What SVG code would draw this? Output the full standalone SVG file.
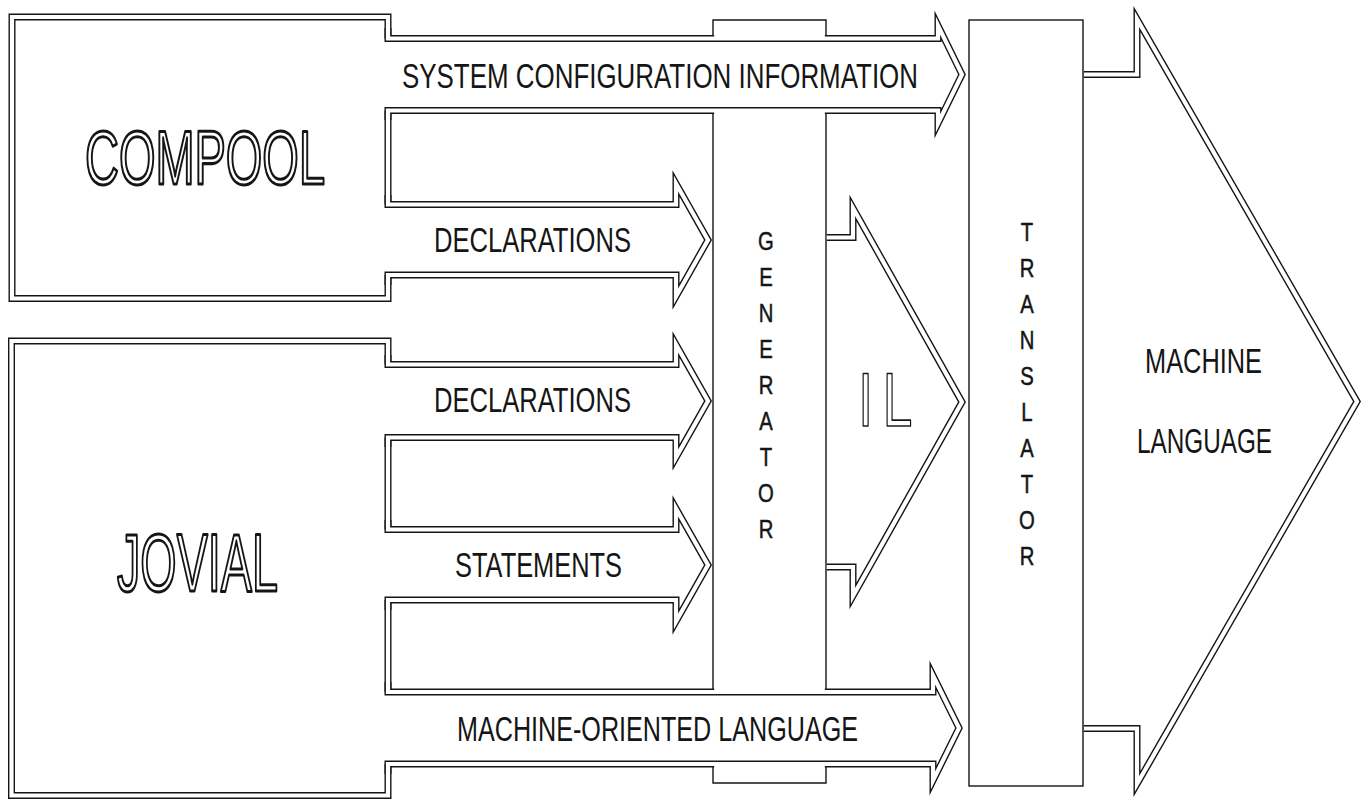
<svg xmlns="http://www.w3.org/2000/svg" width="1367" height="799" viewBox="0 0 1367 799">
<defs>
<style>
.db{fill:none;stroke:#151515;stroke-width:7;stroke-linejoin:miter;stroke-miterlimit:30}
.dw{fill:none;stroke:#fff;stroke-width:4.2;stroke-linejoin:miter;stroke-miterlimit:30}
.sg{fill:none;stroke:#151515;stroke-width:1.4}
.er{fill:#fff}
.t{font-family:"Liberation Sans",Arial,Helvetica,sans-serif;fill:#151515}
.lbl{font-size:35px}
.big{fill:#fff;stroke:#151515;stroke-width:3.1;stroke-linejoin:round}
.vl{font-size:26px;text-anchor:middle;stroke:#151515;stroke-width:0.5}
</style>
<path id="compoolBox" d="M388,38.5 V17 H12 V298.5 H388 V275 M388,110.5 V204.5"/>
<path id="jovialBox" d="M388,364.5 V341 H11.5 V795.5 H388 V764 M388,437.5 V529.5 M388,600 V692"/>
<path id="aSys" d="M388,28 V38.5 H938 V25.5 L962,74.5 L938,123.5 V110.5 H388 V120"/>
<path id="aDecl1" d="M388,195 V204.5 H676 V183.5 L708,240 L676,296.5 V275 H388 V285"/>
<path id="aDecl2" d="M388,355 V364.5 H676 V344.5 L708,401 L676,457.5 V437.5 H388 V447"/>
<path id="aStat" d="M388,520 V529.5 H676 V508.5 L708,565 L676,621.5 V600 H388 V610"/>
<path id="aMol" d="M388,682 V692 H933 V675.5 L959,728 L933,780.5 V764 H388 V774"/>
<path id="aIL" d="M826.7,237.5 H853 V208 L962,402 L853,596 V567 H826.7"/>
<path id="aML" d="M1083.7,74.5 H1137 V19 L1357,401.5 L1137,784 V728.5 H1083.7"/>
</defs>
<rect x="0" y="0" width="1367" height="799" fill="#fff"/>

<g id="compool">
<use href="#compoolBox" class="db"/>
<use href="#compoolBox" class="dw"/>
<text class="t big" x="85" y="184" font-size="76" textLength="240" lengthAdjust="spacingAndGlyphs">COMPOOL</text>
</g>

<g id="jovial">
<use href="#jovialBox" class="db"/>
<use href="#jovialBox" class="dw"/>
<text class="t big" x="117" y="591" font-size="82" textLength="161" lengthAdjust="spacingAndGlyphs">JOVIAL</text>
</g>

<g id="connectors">
<use href="#aSys" class="db"/><use href="#aSys" class="dw"/>
<use href="#aDecl1" class="db"/><use href="#aDecl1" class="dw"/>
<use href="#aDecl2" class="db"/><use href="#aDecl2" class="dw"/>
<use href="#aStat" class="db"/><use href="#aStat" class="dw"/>
<use href="#aMol" class="db"/><use href="#aMol" class="dw"/>
<text class="t lbl" x="402" y="88" textLength="516" lengthAdjust="spacingAndGlyphs">SYSTEM CONFIGURATION INFORMATION</text>
<text class="t lbl" x="434" y="252" textLength="197" lengthAdjust="spacingAndGlyphs">DECLARATIONS</text>
<text class="t lbl" x="434" y="412" textLength="197" lengthAdjust="spacingAndGlyphs">DECLARATIONS</text>
<text class="t lbl" x="455" y="577" textLength="167" lengthAdjust="spacingAndGlyphs">STATEMENTS</text>
<text class="t lbl" x="457" y="741" textLength="401" lengthAdjust="spacingAndGlyphs">MACHINE-ORIENTED LANGUAGE</text>
</g>

<g id="generator">
<rect class="er" x="714.2" y="34.3" width="110.6" height="2.9"/>
<rect class="er" x="714.2" y="111.9" width="110.6" height="2.7"/>
<rect class="er" x="714.2" y="687.9" width="110.6" height="2.7"/>
<rect class="er" x="714.2" y="765.4" width="110.6" height="2.8"/>
<path class="sg" d="M713,35.75 V20 H826 V35.75 M713,113.25 V689.25 M826,113.25 V689.25 M713,766.75 V783 H826 V766.75"/>
<g transform="translate(766 0) scale(0.78 1)">
<text class="t vl" x="0" y="250">G</text>
<text class="t vl" x="0" y="286">E</text>
<text class="t vl" x="0" y="322">N</text>
<text class="t vl" x="0" y="358">E</text>
<text class="t vl" x="0" y="394">R</text>
<text class="t vl" x="0" y="430">A</text>
<text class="t vl" x="0" y="466">T</text>
<text class="t vl" x="0" y="502">O</text>
<text class="t vl" x="0" y="538">R</text>
</g>
</g>

<g id="il">
<use href="#aIL" class="db"/><use href="#aIL" class="dw"/>
<text class="t big" font-size="76" y="426" transform="scale(0.7 1)" style="stroke-width:1.7"><tspan x="1226">I</tspan><tspan x="1261">L</tspan></text>
</g>

<g id="machine-language">
<use href="#aML" class="db"/><use href="#aML" class="dw"/>
<text class="t lbl" x="1145" y="373" textLength="117" lengthAdjust="spacingAndGlyphs">MACHINE</text>
<text class="t lbl" x="1137" y="453" textLength="135" lengthAdjust="spacingAndGlyphs">LANGUAGE</text>
</g>

<g id="translator">
<rect class="sg" x="969" y="20" width="114" height="766"/>
<g transform="translate(1027 0) scale(0.78 1)">
<text class="t vl" x="0" y="241">T</text>
<text class="t vl" x="0" y="277">R</text>
<text class="t vl" x="0" y="313">A</text>
<text class="t vl" x="0" y="349">N</text>
<text class="t vl" x="0" y="385">S</text>
<text class="t vl" x="0" y="421">L</text>
<text class="t vl" x="0" y="457">A</text>
<text class="t vl" x="0" y="493">T</text>
<text class="t vl" x="0" y="529">O</text>
<text class="t vl" x="0" y="565">R</text>
</g>
</g>
</svg>
